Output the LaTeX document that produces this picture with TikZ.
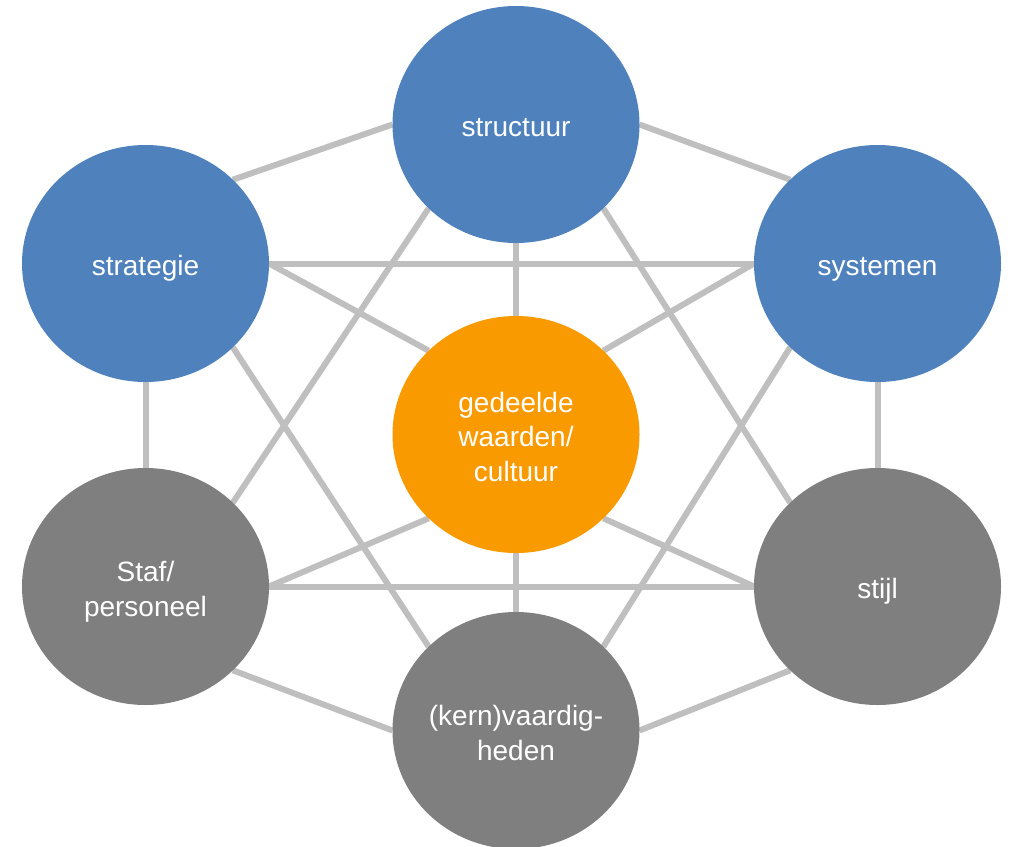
\documentclass[tikz,border=0pt]{standalone}
\usepackage{fontspec}
\setmainfont{Liberation Sans}
\usetikzlibrary{shapes.geometric, positioning, backgrounds}
\definecolor{sblue}{HTML}{4F81BD}
\definecolor{sorange}{HTML}{F99A00}
\definecolor{sgrey}{HTML}{7F7F7F}
\definecolor{slink}{HTML}{BFBFBF}
\newcommand{\blockfont}{\fontsize{21}{26}\selectfont}
\newcommand{\firstline}{\rule{0pt}{26.4pt}}

\begin{document}
\begin{tikzpicture}[x=0.75pt, y=-0.75pt]
 \tikzstyle{block} = [ellipse, inner sep=0pt, outer sep=0pt, minimum width=185.25pt, minimum height=177.75pt, text=white, align=center, font=\blockfont, execute at begin node=\blockfont\firstline, execute at end node=\strut]
 \tikzstyle{link} = [draw=slink, line width=4.5pt]
 \useasboundingbox (0,0) rectangle (1010,846);
   \node[block, fill=sorange] (W) at (516,434.5) {\firstline gedeelde\\waarden/\\cultuur};
   \node[block, fill=sblue] (Str) [above=54.75pt of W] {structuur};
   \node[block, fill=sgrey] (Vaa) [below=44.25pt of W] {\firstline (kern)vaardig-\\heden};
   \node[block, fill=sblue] (Sta) at (145.5,263.5) {strategie};
   \node[block, fill=sblue] (Sys) [right=363.75pt of Sta] {systemen};
   \node[block, fill=sgrey] (Per) [below=64.5pt of Sta] {\firstline Staf/\\personeel};
   \node[block, fill=sgrey] (Sti) [below=64.5pt of Sys] {stijl};

 \begin{scope}[on background layer]
 \path[link]
	(Sta.north east) edge (Str.west)
	(Str.east) edge (Sys.north west)
	(Sta.east) edge (Sys.west)
	     edge (W.north west)
	(Sta.south) edge (Per.north)
	(Sta.south east) edge (Vaa.north west)
	(Sys.south) edge (Sti.north)
	(Sys.west) edge (W.north east)
	(Sys.south west) edge (Vaa.north east)
	(Str.south) edge (W.north)
	(Str.south west) edge (Per.north east)
	(Str.south east) edge (Sti.north west)
	(Per.east) edge (Sti.west)
	     edge (W.south west)
	(Per.south east) edge (Vaa.west)
	(Sti.west) edge (W.south east)
	(Sti.south west) edge (Vaa.east)
	(W.south) edge (Vaa.north);
 \end{scope}
\end{tikzpicture}
\end{document}
